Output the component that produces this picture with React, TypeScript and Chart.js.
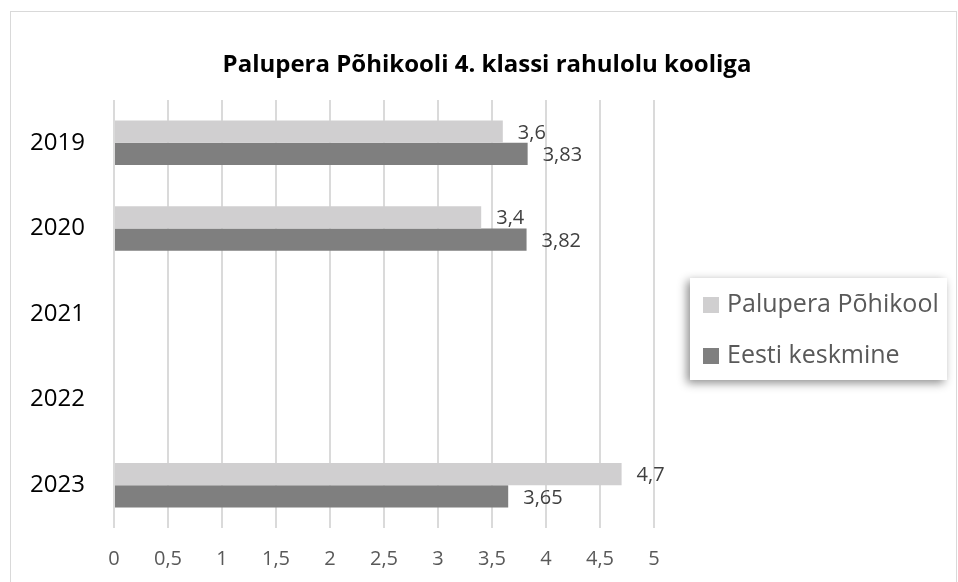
import React, { useEffect, useRef } from "react";
import { Chart, registerables } from "chart.js";

Chart.register(...registerables);

const categories = ["2019", "2020", "2021", "2022", "2023"];
const paluperaValues = [3.6, 3.4, null, null, 4.7];
const eestiValues = [3.83, 3.82, null, null, 3.65];
const seriesNames = ["Palupera Põhikool", "Eesti keskmine"];
const seriesColors = ["#d0cfd0", "#7f7f7f"];
const chartTitle = "Palupera Põhikooli 4. klassi rahulolu kooliga";
const xMin = 0;
const xMax = 5;
const xStep = 0.5;

const FONT = '"Open Sans", "Noto Sans", sans-serif';
const fmt = (v: number) => String(v).replace(".", ",");

const frameAndTitle = {
  id: "frameAndTitle",
  beforeDraw(chart: any) {
    const ctx = chart.ctx;
    ctx.save();
    ctx.fillStyle = "#ffffff";
    ctx.fillRect(0, 0, chart.width, chart.height);
    ctx.strokeStyle = "#d9d9d9";
    ctx.lineWidth = 1;
    ctx.strokeRect(10.5, 11.5, 946, 620);
    ctx.fillStyle = "#000000";
    ctx.font = `bold 24px ${FONT}`;
    ctx.textAlign = "center";
    ctx.textBaseline = "alphabetic";
    ctx.fillText(chartTitle, 487, 72);
    ctx.restore();
  },
};

const dataLabels = {
  id: "dataLabels",
  afterDatasetsDraw(chart: any) {
    const ctx = chart.ctx;
    ctx.save();
    ctx.font = `20px ${FONT}`;
    ctx.fillStyle = "#404040";
    ctx.textAlign = "left";
    ctx.textBaseline = "middle";
    chart.data.datasets.forEach((ds: any, i: number) => {
      const meta = chart.getDatasetMeta(i);
      meta.data.forEach((el: any, j: number) => {
        const v = ds.data[j];
        if (v === null || v === undefined) return;
        ctx.fillText(fmt(v), el.x + 15, el.y + 1.5);
      });
    });
    ctx.restore();
  },
};

const customLegend = {
  id: "customLegend",
  afterDraw(chart: any) {
    const ctx = chart.ctx;
    const bx = 690, by = 278, bw = 257, bh = 102;
    ctx.save();
    ctx.shadowColor = "rgba(0,0,0,0.45)";
    ctx.shadowBlur = 9;
    ctx.shadowOffsetX = -3;
    ctx.shadowOffsetY = 3;
    ctx.fillStyle = "#ffffff";
    ctx.fillRect(bx, by, bw, bh);
    ctx.restore();
    ctx.save();
    ctx.font = `25px ${FONT}`;
    ctx.textAlign = "left";
    ctx.textBaseline = "middle";
    chart.data.datasets.forEach((ds: any, i: number) => {
      const cy = 305 + i * 51;
      ctx.fillStyle = ds.backgroundColor;
      ctx.fillRect(703, cy - 8, 16, 16);
      ctx.fillStyle = "#595959";
      ctx.fillText(ds.label, 727, cy);
    });
    ctx.restore();
  },
};

export default function App() {
  const ref = useRef<HTMLCanvasElement>(null);
  useEffect(() => {
    if (!ref.current) return;
    const chart = new Chart(ref.current, {
      type: "bar",
      data: {
        labels: categories,
        datasets: [
          {
            label: seriesNames[0],
            data: paluperaValues,
            backgroundColor: seriesColors[0],
            borderWidth: 0,
            categoryPercentage: 0.52,
            barPercentage: 1,
          },
          {
            label: seriesNames[1],
            data: eestiValues,
            backgroundColor: seriesColors[1],
            borderWidth: 0,
            categoryPercentage: 0.52,
            barPercentage: 1,
          },
        ],
      },
      options: {
        indexAxis: "y",
        responsive: false,
        animation: false,
        devicePixelRatio: 1,
        layout: { padding: { top: 100, right: 304, left: 0, bottom: 0 } },
        plugins: {
          legend: { display: false },
          title: { display: false },
          tooltip: { enabled: false },
        },
        scales: {
          x: {
            min: xMin,
            max: xMax,
            grid: { color: "#dadada", lineWidth: 2, drawTicks: false },
            border: { display: false },
            ticks: {
              stepSize: xStep,
              padding: 19,
              color: "#595959",
              font: { family: FONT, size: 20 },
              callback: (v: any) => fmt(Number(v)),
            },
            afterFit: (s: any) => {
              s.height = 54;
            },
          },
          y: {
            grid: { display: false, drawTicks: false },
            border: { display: false },
            ticks: {
              padding: 29,
              color: "#000000",
              font: { family: FONT, size: 24 },
            },
            afterFit: (s: any) => {
              s.width = 114;
            },
          },
        },
      },
      plugins: [frameAndTitle, dataLabels, customLegend],
    });
    return () => chart.destroy();
  }, []);
  return (
    <div style={{ position: "absolute", left: 0, top: 0, width: 958, height: 582 }}>
      <canvas ref={ref} width={958} height={582} />
    </div>
  );
}
